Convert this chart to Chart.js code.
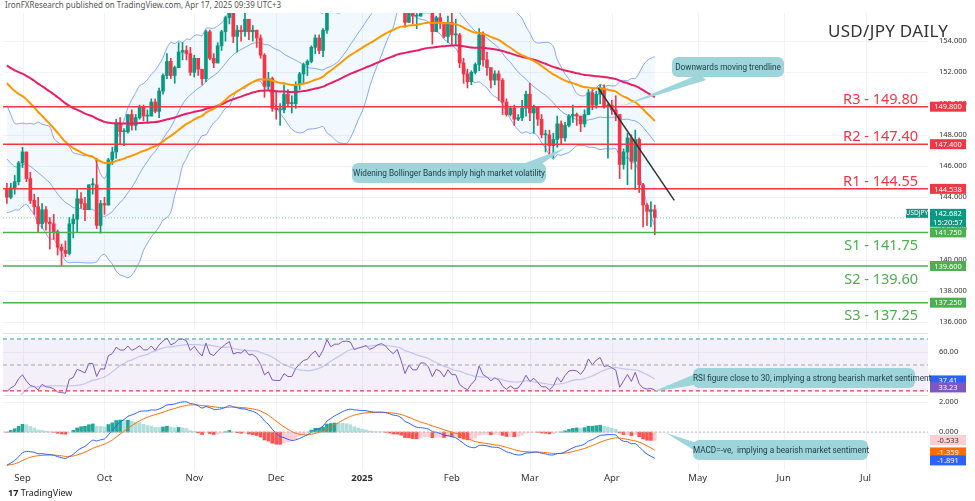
<!DOCTYPE html>
<html><head><meta charset="utf-8">
<script src="https://cdn.jsdelivr.net/npm/chart.js@4.4.1/dist/chart.umd.min.js"></script>
<style>
body{margin:0;background:#fff;width:975px;height:501px;overflow:hidden;font-family:"Noto Sans",Roboto,sans-serif;position:relative}
canvas{position:absolute;left:0}
.call{position:absolute;background:#9dd5da;border-radius:6px;color:#1e3a45;font-family:Roboto,sans-serif;font-size:8.2px;text-align:center;line-height:20px;white-space:nowrap}
.lvl{position:absolute;font-size:14.5px;text-align:right;width:200px}
</style></head><body>
<div style="position:absolute;left:5px;top:-1px;font-size:8px;color:#555">IronFXResearch published on TradingView.com, Apr 17, 2025 09:39 UTC+3</div>
<canvas id="c1" width="975" height="333" style="top:0"></canvas>
<canvas id="c2" width="975" height="62" style="top:333px"></canvas>
<canvas id="c3" width="975" height="95" style="top:395px"></canvas>
<svg width="975" height="501" style="position:absolute;left:0;top:0;pointer-events:none">
<polygon points="622,106 700,74 706,80" fill="#9dd5da"/>
<polygon points="565,148 520,165 530,172" fill="#9dd5da"/>
<polygon points="652,392 700,372 700,384" fill="#9dd5da"/>
<polygon points="666,433 700,444 700,454" fill="#9dd5da"/>
<line x1="3" y1="333.5" x2="928" y2="333.5" stroke="#e0e3eb"/>
<line x1="3" y1="395.5" x2="928" y2="395.5" stroke="#e0e3eb"/>
</svg>
<div class="call" style="left:672px;top:57px;width:112px">Downwards moving trendline</div>
<div class="call" style="left:352px;top:163px;width:194px">Widening Bollinger Bands imply high market volatility</div>
<div class="call" style="left:693px;top:368px;width:222px">RSI figure close to 30, implying a strong bearish market sentiment</div>
<div class="call" style="left:693px;top:440px;width:175px">MACD=-ve,&nbsp; implying a bearish market sentiment</div>
<div style="position:absolute;left:828px;top:19px;font-size:17px;color:#333;letter-spacing:0.3px">USD/JPY DAILY</div>
<div class="lvl" style="left:718px;top:88px;color:#f23645">R3 - 149.80</div>
<div class="lvl" style="left:718px;top:125px;color:#f23645">R2 - 147.40</div>
<div class="lvl" style="left:718px;top:170px;color:#f23645">R1 - 144.55</div>
<div class="lvl" style="left:718px;top:234px;color:#4caf50">S1 - 141.75</div>
<div class="lvl" style="left:718px;top:268px;color:#4caf50">S2 - 139.60</div>
<div class="lvl" style="left:718px;top:304px;color:#4caf50">S3 - 137.25</div>
<div style="position:absolute;left:8px;top:486px;font-size:9px;color:#222;font-weight:bold">17 <span style="font-weight:normal">TradingView</span></div>
<script>
const preCloses=[153.9,152.8,150.0,149.4,146.5,144.2,144.3,146.7,147.3,146.6,147.2,146.9,146.7,149.3,147.6,146.6,145.3,145.2,146.3,144.4,144.5];
const closes=[144.0,144.6,145.0,146.2,
146.9,145.2,143.8,143.4,142.3, 143.2,142.4,142.3,141.8,140.8, 140.6,140.4,142.3,142.6,143.9, 143.6,143.2,144.8,144.8,142.2,
143.6,143.5,146.4,146.9,148.7, 148.2,148.2,149.3,148.6,149.1, 149.8,149.2,149.2,150.1,149.5, 150.8,151.8,152.7,151.8,152.3,
153.3,153.4,153.2,152.0,152.9, 152.2,151.6,154.6,152.9,152.6, 153.7,154.6,155.5,156.3,154.3, 154.7,154.6,155.4,154.6,154.7,
154.2,153.1,151.1,151.6,149.7, 149.6,149.6,150.6,150.0,150.0, 151.2,151.9,152.5,152.7,153.6, 154.2,153.4,154.7,157.4,156.4,
157.1,157.1,157.8,157.9,157.8, 156.9,157.2,157.4,157.7,157.3, 157.6,158.1,158.3,158.1,157.7, 157.4,158.0,156.9,155.2,156.3,
155.6,155.6,156.5,156.5,156.0, 154.6,155.5,155.2,154.3,155.2, 154.4,154.4,152.6,151.9,151.4, 152.0,152.5,154.4,152.8,152.3,
151.5,151.9,151.5,150.1,149.3, 149.7,149.0,149.1,149.7,150.6, 149.4,149.8,149.0,148.0,148.0, 147.3,147.7,148.7,147.8,148.6,
149.2,149.3,149.2,148.7,149.3, 150.7,149.9,150.6,151.0,149.8, 149.9,149.6,149.3,146.1,146.9, 147.8,146.3,147.7,144.8,143.5,
143.1,143.2,142.7];
const highs=[144.9,144.9,145.4,146.3,
147.2,146.9,145.6,144.2,144.0, 143.6,143.4,142.7,142.9,141.9, 141.0,141.2,142.7,142.9,144.5, 144.3,144.0,144.8,145.2,146.5,
143.8,144.0,146.5,147.2,149.0, 149.1,148.4,149.3,149.6,149.3, 149.9,149.9,149.6,150.3,150.3, 151.0,151.9,153.2,152.9,152.4,
153.9,153.9,153.7,153.6,153.1, 152.4,152.2,154.7,154.7,153.2, 153.9,154.7,155.6,156.7,156.4, 155.0,155.0,155.9,155.3,155.0,
154.6,154.4,153.2,152.0,151.7, 150.8,150.0,151.2,150.9,150.5, 151.4,152.0,152.6,152.8,153.7, 154.4,154.4,154.8,157.9,157.9,
157.4,157.4,157.9,158.1,158.0, 158.0,157.3,157.5,158.0,157.9, 158.4,158.4,158.5,158.5,158.9, 158.0,158.2,158.1,157.0,156.3,
156.4,156.2,156.6,156.8,156.6, 156.2,155.6,155.8,155.2,155.6, 155.9,155.4,154.5,152.9,152.2, 152.1,152.6,154.8,154.6,153.3,
152.0,152.1,152.1,151.6,150.3, 149.8,149.9,149.3,150.2,150.8, 151.3,149.9,149.8,149.3,148.3, 148.3,148.1,149.2,148.9,148.8,
149.3,149.9,149.4,149.2,149.6, 150.9,150.9,150.8,151.2,151.2, 150.0,150.2,150.5,149.3,147.1, 148.1,148.0,148.3,147.8,144.9,
143.6,143.7,143.5];
const lows=[143.6,143.9,144.2,144.8,
145.9,145.0,143.6,142.9,141.8, 142.0,141.9,140.7,141.3,140.3, 139.6,140.2,140.3,141.4,141.8, 143.3,142.5,143.2,144.2,142.0,
141.7,142.9,143.5,146.1,146.5, 147.4,147.3,148.1,148.3,148.3, 149.0,148.9,148.8,149.2,149.4, 149.1,150.6,151.6,151.6,151.3,
152.6,152.8,152.8,151.8,151.7, 151.8,151.2,151.4,152.8,152.3, 152.7,153.4,154.0,155.1,153.9, 153.3,154.0,154.3,154.1,154.0,
153.6,152.9,150.4,150.9,149.5, 149.0,148.6,149.4,149.8,149.4, 149.7,150.9,151.3,151.8,152.6, 153.2,153.2,153.0,154.5,156.3,
156.3,156.9,157.0,157.5,157.4, 156.5,156.1,156.8,157.2,157.0, 157.1,157.5,157.8,157.8,157.3, 157.1,157.1,156.6,154.9,155.3,
155.1,154.8,155.6,155.9,155.8, 153.8,154.6,154.8,154.2,153.9, 153.7,153.7,152.3,151.3,151.0, 151.2,151.9,152.1,152.4,151.8,
151.0,151.2,150.2,149.3,149.2, 149.2,148.6,148.9,148.9,149.2, 148.9,148.1,148.6,147.8,146.9, 146.6,146.5,147.2,147.4,147.6,
148.5,148.8,148.6,148.2,148.5, 149.3,149.6,149.7,150.0,149.7, 146.5,149.3,148.9,145.2,145.8, 144.8,145.8,144.5,144.3,142.1,
142.2,142.1,141.6];
const monthTicks=[4,25,48,69,91,114,134,155,177,199,220];
const monthLabels=['Sep','Oct','Nov','Dec','2025','Feb','Mar','Apr','May','Jun','Jul'];
const priceTicks=[136,138,140,142,144,146,148,150,152,154];
const rsiTicks=[60], macdTicks=[2,0];
const resistance=[149.80,147.40,144.55];
const support=[141.75,139.60,137.25];
const lastPrice=142.682;
const rsiLabels=['37.41','33.23'], rsiLabelAt=[37.41,33.23];
const macdLabels=['-0.533','-1.359','-1.891'];
const ema50Start=151.6, ema100Start=152.6;
const ema12Start=145.0, ema26Start=147.3, signalStart=-2.2;
const trendX=[151.5,171], trendY=[151.0,143.8];

const N=closes.length, GREEN='#089981', RED='#f23645';
const opens=closes.map((c,i)=>i?closes[i-1]:preCloses[preCloses.length-1]);
function emaSeed(arr,n,seed){const k=2/(n+1);let e=seed;return arr.map(v=>e=e+k*(v-e));}
const full=preCloses.concat(closes), P=preCloses.length;
const bbMid=[],bbUp=[],bbLo=[];
for(let i=0;i<N;i++){const w=full.slice(P+i-19,P+i+1);const m=w.reduce((a,b)=>a+b)/20;const sd=Math.sqrt(w.reduce((a,b)=>a+(b-m)**2,0)/20);bbMid.push(m);bbUp.push(m+2*sd);bbLo.push(m-2*sd);}
const ema50=emaSeed(closes,50,ema50Start), ema100=emaSeed(closes,100,ema100Start);
const rsiFull=[];let ag=0,al=0;
for(let i=1;i<=14;i++){const d=full[i]-full[i-1];ag+=Math.max(d,0);al+=Math.max(-d,0);}ag/=14;al/=14;
for(let i=0;i<full.length;i++){if(i>14){const d=full[i]-full[i-1];ag=(ag*13+Math.max(d,0))/14;al=(al*13+Math.max(-d,0))/14;}rsiFull.push(i>=14?100-100/(1+ag/al):null);}
const rsi=rsiFull.slice(P);
const rsiMa=rsi.map((v,i)=>{const w=rsiFull.slice(P+i-13,P+i+1);return w.reduce((a,b)=>a+b)/14;});
const e12=emaSeed(closes,12,ema12Start), e26=emaSeed(closes,26,ema26Start);
const macd=e12.map((v,i)=>v-e26[i]); const signal=emaSeed(macd,9,signalStart);
const hist=macd.map((v,i)=>v-signal[i]);
const histCol=hist.map((h,i)=>{const p=i?hist[i-1]:h;return h>=0?(h>=p?'#26a69a':'#b2dfdb'):(h<=p?'#ff5252':'#ffcdd2');});

const pts=a=>a.map((y,i)=>({x:i,y}));
const XMIN=-1,XMAX=236;
const axes=(min,max)=>({x:{type:'linear',display:false,offset:false,min:XMIN,max:XMAX},y:{display:false,min,max}});
function frame(yt,fmt,months,boxes){return {id:'frame',
 beforeDatasetsDraw(ch){const c=ch.ctx,a=ch.chartArea,sx=ch.scales.x,sy=ch.scales.y;c.save();c.strokeStyle='#f0f3fa';c.lineWidth=1;
  monthTicks.forEach(v=>{const x=Math.round(sx.getPixelForValue(v))+0.5;c.beginPath();c.moveTo(x,a.top);c.lineTo(x,a.bottom);c.stroke();});
  yt.forEach(v=>{const y=Math.round(sy.getPixelForValue(v))+0.5;c.beginPath();c.moveTo(a.left,y);c.lineTo(a.right,y);c.stroke();});c.restore();},
 afterDraw(ch){const c=ch.ctx,a=ch.chartArea,sx=ch.scales.x,sy=ch.scales.y;c.save();
  c.fillStyle='#333';c.font='7.5px Noto Sans';c.textAlign='left';c.textBaseline='middle';
  yt.forEach(v=>c.fillText(fmt(v),939,sy.getPixelForValue(v)));
  if(months){c.textAlign='center';c.textBaseline='top';monthTicks.forEach((v,i)=>{c.font=(i===4?'bold ':'')+'9.5px Noto Sans';c.fillText(monthLabels[i],sx.getPixelForValue(v),a.bottom+4);});}
  boxes.forEach(it=>{const y=sy.getPixelForValue(it.v);const h=it.h||10;c.fillStyle=it.bg;c.fillRect(930,y-h/2,36,h);
   c.fillStyle=it.fg||'#fff';c.font='7.5px Noto Sans';c.textAlign='center';c.textBaseline='middle';
   if(it.t2){c.fillText(it.t,948,y-4);c.fillText(it.t2,948,y+5);}else c.fillText(it.t,948,y+0.5);
   if(it.tag){c.fillStyle=it.bg;c.fillRect(906,y-h/2,22,9);c.fillStyle='#fff';c.font='6.5px Noto Sans';c.fillText(it.tag,917,y-h/2+4.5);}});
  c.restore();}};}
const line=(data,color,w,extra)=>Object.assign({type:'line',data,borderColor:color,borderWidth:w,pointRadius:0,tension:0.3},extra||{});
const hline=(v,color,w,extra)=>line([{x:XMIN,y:v},{x:XMAX,y:v}],color,w,Object.assign({tension:0},extra||{}));
const base=pad=>({responsive:false,animation:false,layout:{padding:pad},plugins:{legend:{display:false},tooltip:{enabled:false}}});

new Chart(document.getElementById('c1'),{type:'bar',data:{datasets:[
 line(pts(bbUp),'rgba(41,98,255,0.55)',1,{order:20}),
 line(pts(bbLo),'rgba(41,98,255,0.55)',1,{fill:'-1',backgroundColor:'rgba(33,150,243,0.06)',order:20}),
 line(pts(bbMid),'rgba(41,98,255,0.55)',1,{order:19}),
 line(pts(ema50),'#ff9800',2,{order:5}),
 line(pts(ema100),'#e91e63',2,{order:5}),
 ...resistance.map(v=>hline(v,'#f23645',1.5,{order:2})),
 ...support.map(v=>hline(v,'#4caf50',1.5,{order:2})),
 hline(lastPrice,'rgba(8,153,129,0.5)',1,{borderDash:[1,2],order:3}),
 {type:'bar',data:closes.map((c,i)=>({x:i,y:[Math.min(lows[i],c,opens[i]),Math.max(highs[i],c,opens[i])]})),backgroundColor:closes.map((c,i)=>c>=opens[i]?GREEN:RED),barThickness:1,grouped:false,order:10},
 {type:'bar',data:closes.map((c,i)=>({x:i,y:[opens[i],c]})),backgroundColor:closes.map((c,i)=>c>=opens[i]?GREEN:RED),barThickness:3,minBarLength:1,grouped:false,order:9},
 line(trendX.map((x,i)=>({x,y:trendY[i]})),'#333',1.5,{tension:0,order:1})
]},options:Object.assign(base({top:13,left:3,bottom:3,right:47}),{scales:axes(135.5,155.8)}),
 plugins:[frame(priceTicks,v=>v.toFixed(3),false,[{v:149.8,t:'149.800',bg:'#f23645'},{v:147.4,t:'147.400',bg:'#f23645'},{v:144.538,t:'144.538',bg:'#f23645'},
 {v:lastPrice,t:'142.682',t2:'15:20:57',bg:GREEN,h:18,tag:'USDJPY'},{v:141.75,t:'141.750',bg:'#4caf50'},{v:139.6,t:'139.600',bg:'#4caf50'},{v:137.25,t:'137.250',bg:'#4caf50'}])]});

new Chart(document.getElementById('c2'),{type:'line',data:{datasets:[
 hline(70,'#26a69a',1,{borderDash:[4,3],fill:{target:{value:30}},backgroundColor:'rgba(126,87,194,0.09)'}),
 hline(50,'#aaa',1,{borderDash:[4,3]}),
 hline(30,'#f23645',1.2,{borderDash:[4,3]}),
 line(pts(rsiMa),'rgba(140,150,230,0.45)',1.2,{tension:0.2}),
 line(pts(rsi),'#7e57c2',1,{tension:0})
]},options:Object.assign(base({top:0,left:3,bottom:0,right:47}),{scales:axes(26.9,74.6)}),
 plugins:[frame(rsiTicks,v=>v.toFixed(2),false,[{v:rsiLabelAt[0]+0.7,t:rsiLabels[0],bg:'#2962ff'},{v:rsiLabelAt[1]-0.5,t:rsiLabels[1],bg:'#7e57c2'}])]});

new Chart(document.getElementById('c3'),{type:'bar',data:{datasets:[
 hline(0,'#bbb',1,{borderDash:[2,2]}),
 {type:'bar',data:pts(hist),backgroundColor:histCol,barThickness:3,order:5},
 line(pts(macd),'#2962ff',1,{order:1}),
 line(pts(signal),'#ff6d00',1,{order:2})
]},options:Object.assign(base({top:0,left:3,bottom:20,right:47}),{scales:axes(-2.53,2.47)}),
 plugins:[frame(macdTicks,v=>v.toFixed(3),true,[{v:-0.533,t:macdLabels[0],bg:'#ffcdd2',fg:'#333'},{v:-1.359,t:macdLabels[1],bg:'#ff6d00'},{v:-1.891,t:macdLabels[2],bg:'#2962ff'}])]});
</script></body></html>
